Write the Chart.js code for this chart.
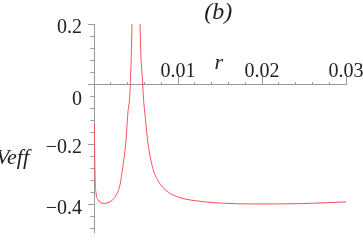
<!DOCTYPE html>
<html>
<head>
<meta charset="utf-8">
<script src="https://cdn.jsdelivr.net/npm/chart.js@4/dist/chart.umd.min.js"></script>
<style>
  html, body { margin: 0; padding: 0; background: #fff; overflow: hidden; }
</style>
</head>
<body>
<canvas id="veffChart" width="363" height="252"></canvas>
<script>
// left branch of Veff(r), up to the singularity
const rLeft = [0.00004, 0.00012, 0.00024, 0.00048, 0.00083, 0.0012, 0.00167, 0.00214, 0.0026, 0.0031, 0.00345, 0.0038, 0.00405, 0.00423, 0.00432, 0.00452, 0.0047];
const vLeft = [-0.13, -0.30, -0.36, -0.383, -0.393, -0.395, -0.393, -0.385, -0.37, -0.333, -0.27, -0.19, -0.09, -0.05, 0, 0.2, 0.6];
// right branch, after the singularity
const rRight = [0.0053, 0.00548, 0.0058, 0.0059, 0.00607, 0.00643, 0.00702, 0.00762, 0.0087, 0.01024, 0.0126, 0.015, 0.0189, 0.0245, 0.03];
const vRight = [0.6, 0.2, 0, -0.05, -0.1, -0.196, -0.28, -0.32, -0.355, -0.376, -0.388, -0.394, -0.397, -0.396, -0.39];

const xLabels = [0.01, 0.02, 0.03];
const yLabels = [0.2, 0, -0.2, -0.4];

const AXIS = '#9a9a9a';
const TEXT = '#222';
const SERIF = "'Liberation Serif', 'Times New Roman', serif";

function pts(xs, ys) {
  return xs.map((x, i) => ({ x: x, y: ys[i] }));
}

function near(v, list) {
  return list.find(t => Math.abs(t - v) < 1e-9);
}

function fmt(v) {
  return (v < 0 ? '\u2212' : '') + String(Math.abs(v));
}

// axis names and panel letter, placed from the scales
const labelsPlugin = {
  id: 'labels',
  afterDraw(chart) {
    const ctx = chart.ctx;
    const xs = chart.scales.x, ys = chart.scales.y;
    const y0 = ys.getPixelForValue(0);
    ctx.save();
    ctx.fillStyle = TEXT;
    ctx.textBaseline = 'alphabetic';
    ctx.font = 'italic 24px ' + SERIF;
    ctx.textAlign = 'center';
    ctx.fillText('(b)', xs.getPixelForValue(0.0148), 19);
    ctx.font = 'italic 22px ' + SERIF;
    ctx.fillText('r', xs.getPixelForValue(0.01485), y0 - 15);
    ctx.textAlign = 'left';
    ctx.fillText('Veff', -4, ys.getPixelForValue(-0.265));
    ctx.restore();
  }
};

new Chart(document.getElementById('veffChart'), {
  type: 'scatter',
  data: {
    datasets: [
      { data: pts(rLeft, vLeft) },
      { data: pts(rRight, vRight) }
    ]
  },
  options: {
    responsive: false,
    animation: false,
    layout: { padding: { left: 0, right: 17, top: 24, bottom: 2 } },
    elements: {
      point: { radius: 0 },
      line: { borderColor: '#ff4d5a', borderWidth: 1, cubicInterpolationMode: 'monotone' }
    },
    datasets: { scatter: { showLine: true } },
    plugins: { legend: { display: false }, tooltip: { enabled: false } },
    scales: {
      x: {
        type: 'linear', min: 0, max: 0.03,
        position: { y: 0 },
        border: { display: true, color: AXIS, width: 1 },
        grid: { drawOnChartArea: false, drawTicks: true, tickLength: -3, tickColor: AXIS },
        ticks: { display: false, stepSize: 0.002, maxTicksLimit: 100 }
      },
      x2: {
        type: 'linear', min: 0, max: 0.03,
        position: { y: 0 },
        border: { display: false },
        grid: { drawOnChartArea: false, drawTicks: true, tickLength: -8, tickColor: AXIS },
        ticks: {
          stepSize: 0.01, autoSkip: false, maxRotation: 0, padding: -17,
          color: TEXT, font: { family: SERIF, size: 20, lineHeight: 1.2 },
          callback: v => near(v, xLabels) !== undefined ? fmt(near(v, xLabels)) : ''
        }
      },
      y: {
        type: 'linear', min: -0.49, max: 0.2,
        position: 'left',
        afterFit: s => { s.width = 94; },
        border: { display: true, color: AXIS, width: 1 },
        grid: { drawOnChartArea: false, drawTicks: true, tickLength: 3.5, tickColor: AXIS },
        ticks: {
          stepSize: 0.04, includeBounds: false, autoSkip: false, maxTicksLimit: 100,
          padding: 8.5, labelOffset: 3.5,
          color: TEXT, font: { family: SERIF, size: 20, lineHeight: 1.15 },
          callback: v => {
            const t = near(v, yLabels);
            if (t === undefined) return '';
            return t === 0 ? ['', '0'] : fmt(t);
          }
        }
      },
      y2: {
        type: 'linear', min: -0.49, max: 0.2,
        position: { x: 0 },
        border: { display: false },
        grid: { drawOnChartArea: false, drawTicks: true, tickLength: 6, tickColor: AXIS },
        ticks: { display: false, stepSize: 0.2, includeBounds: false }
      }
    }
  },
  plugins: [labelsPlugin]
});
</script>
</body>
</html>
